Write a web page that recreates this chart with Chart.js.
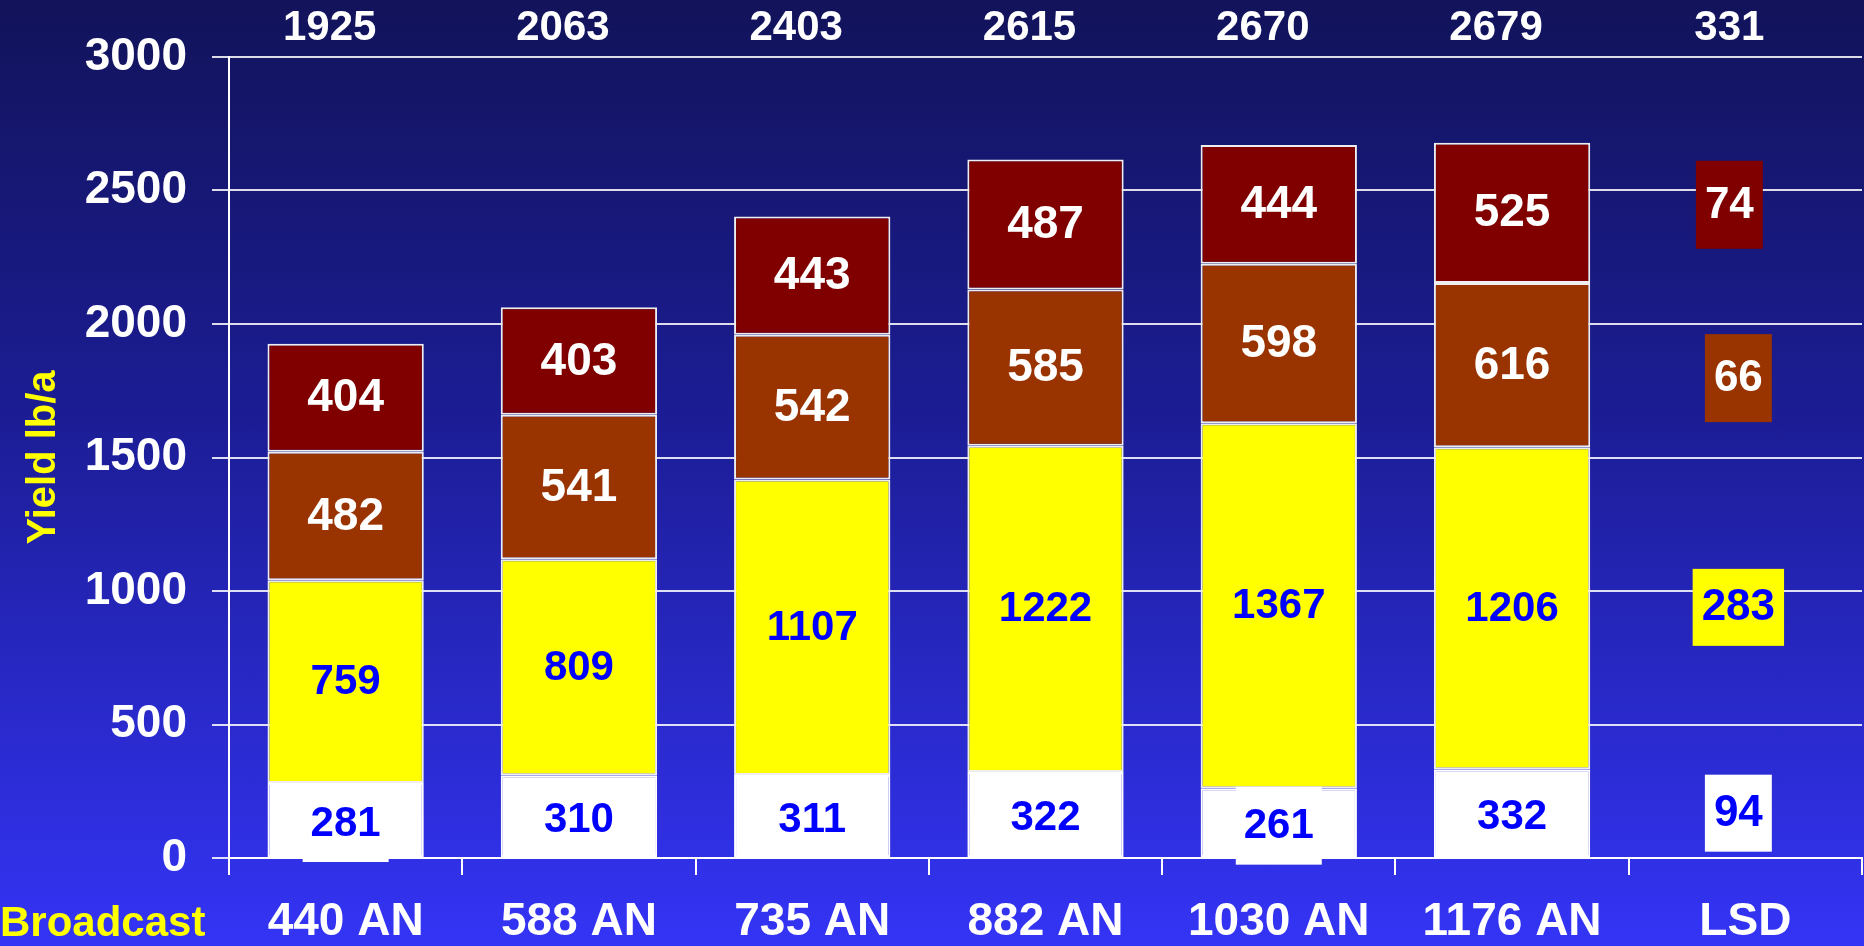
<!DOCTYPE html>
<html>
<head>
<meta charset="utf-8">
<style>
  html, body { margin: 0; padding: 0; }
  body {
    width: 1864px; height: 946px; overflow: hidden;
    background: linear-gradient(to bottom, #12135a 0%, #1c1d96 45%, #3434f6 100%);
  }
  #wrap { position: relative; width: 1864px; height: 946px; }
</style>
</head>
<body>
<div id="wrap"><canvas id="chart"></canvas></div>
<script src="https://cdn.jsdelivr.net/npm/chart.js@4.4.1/dist/chart.umd.min.js"></script>
<script>
// ---- data ----
var categories = ['440 AN', '588 AN', '735 AN', '882 AN', '1030 AN', '1176 AN', 'LSD'];
var totals = [1925, 2063, 2403, 2615, 2670, 2679, 331];
var layerWhite = [281, 310, 311, 322, 261, 332, null];
var layerYellow = [759, 809, 1107, 1222, 1367, 1206, null];
var layerBrown = [482, 541, 542, 585, 598, 616, null];
var layerRed = [404, 403, 443, 487, 444, 525, null];
var lsdValues = [94, 283, 66, 74];   // white, yellow, brown, red
var yTicks = [0, 500, 1000, 1500, 2000, 2500, 3000];

var FONT = '"Liberation Sans", Arial, sans-serif';
Chart.defaults.font.family = FONT;

var fills = ['#ffffff', '#ffff00', '#993300', '#800000'];
var textColors = ['#0000ff', '#0000ff', '#ffffff', '#ffffff'];
var textSizes = [42, 42, 46, 46];

// labels inside the segments, plus the LSD boxes and "Broadcast"
var segmentLabels = {
  id: 'segmentLabels',
  afterDatasetsDraw: function(chart) {
    var ctx = chart.ctx;
    ctx.save();
    ctx.textAlign = 'center';
    ctx.textBaseline = 'middle';
    chart.data.datasets.forEach(function(ds, i) {
      var meta = chart.getDatasetMeta(i);
      meta.data.forEach(function(bar, j) {
        var v = ds.data[j];
        if (v == null) return;
        var cy = (bar.y + bar.base) / 2;
        if (i === 0) {
          cy += 3;
          ctx.fillStyle = '#ffffff';
          ctx.fillRect(bar.x - 43, cy - 39, 86, 78);
        }
        ctx.font = 'bold ' + textSizes[i] + 'px ' + FONT;
        ctx.fillStyle = textColors[i];
        ctx.fillText(String(v), bar.x, cy + 1);
      });
    });

    // LSD boxes sit roughly level with the segments of the neighbouring column
    var ref = categories.length - 2;
    var lx = chart.scales.x.getPixelForValue(categories.length - 1) - 7;
    var nudgeX = [0, 0, 0, -9], nudgeY = [0, -1, 13, -8];
    lsdValues.forEach(function(v, i) {
      var bar = chart.getDatasetMeta(i).data[ref];
      var cy = (bar.y + bar.base) / 2 + nudgeY[i];
      var cx = lx + nudgeX[i];
      ctx.font = 'bold 44px ' + FONT;
      var w = ctx.measureText(String(v)).width + 18;
      var h = i < 2 ? 77 : 88;
      ctx.fillStyle = fills[i];
      ctx.fillRect(cx - w / 2, cy - h / 2, w, h);
      ctx.fillStyle = textColors[i];
      ctx.fillText(String(v), cx, cy + 1);
    });

    ctx.font = 'bold 42px ' + FONT;
    ctx.textAlign = 'left';
    ctx.fillStyle = '#ffff00';
    ctx.fillText('Broadcast', 0, 924);
    ctx.restore();
  }
};

function makeSet(label, data, i) {
  return {
    label: label,
    data: data,
    backgroundColor: fills[i],
    borderColor: i === 0 ? '#ffffff' : '#eeeeee',
    borderWidth: 2,
    borderSkipped: false,
    categoryPercentage: 1,
    barPercentage: 0.67
  };
}

new Chart(document.getElementById('chart'), {
  type: 'bar',
  data: {
    labels: categories,
    datasets: [
      makeSet('white', layerWhite, 0),
      makeSet('yellow', layerYellow, 1),
      makeSet('brown', layerBrown, 2),
      makeSet('red', layerRed, 3)
    ]
  },
  options: {
    responsive: true,
    maintainAspectRatio: false,
    animation: false,
    layout: { padding: { left: 0, right: 2, top: 0, bottom: 0 } },
    plugins: {
      legend: { display: false },
      tooltip: { enabled: false }
    },
    scales: {
      x: {
        stacked: true,
        position: 'bottom',
        afterFit: function(s) { s.height = 88; },
        grid: { drawOnChartArea: false, drawTicks: true, tickLength: 17, color: '#ffffff', lineWidth: 2, offset: true },
        border: { color: '#ffffff', width: 2 },
        ticks: { color: '#ffffff', font: { size: 46, weight: 'bold' }, padding: 20, maxRotation: 0, autoSkip: false }
      },
      x2: {
        type: 'category',
        position: 'top',
        labels: totals.map(String),
        offset: true,
        afterFit: function(s) { s.height = 57; },
        grid: { display: false, drawTicks: false },
        border: { display: false },
        ticks: { color: '#ffffff', font: { size: 42, weight: 'bold' }, padding: 3, labelOffset: -16, maxRotation: 0, autoSkip: false }
      },
      y: {
        stacked: true,
        min: 0,
        max: 3000,
        afterFit: function(s) { s.width = 229; },
        afterBuildTicks: function(s) { s.ticks = yTicks.map(function(v) { return { value: v }; }); },
        grid: { color: 'rgba(255,255,255,0.85)', lineWidth: 2, tickLength: 17 },
        border: { color: '#ffffff', width: 2 },
        ticks: {
          color: '#ffffff', font: { size: 46, weight: 'bold' }, padding: 25,
          callback: function(v) { return String(v); }
        },
        title: {
          display: true,
          text: 'Yield lb/a',
          color: '#ffff00',
          font: { size: 40, weight: 'bold' },
          padding: { top: 20, bottom: 0 }
        }
      }
    }
  },
  plugins: [segmentLabels]
});
</script>
</body>
</html>
